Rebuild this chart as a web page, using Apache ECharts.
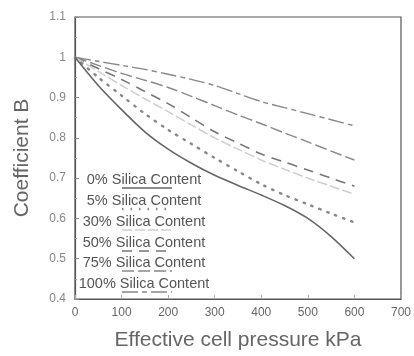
<!DOCTYPE html>
<html>
<head>
<meta charset="utf-8">
<script src="https://cdn.jsdelivr.net/npm/echarts@6/dist/echarts.min.js"></script>
<style>
html,body{margin:0;padding:0;background:#fff;}
#chart{width:414px;height:356px;}
</style>
</head>
<body>
<div id="chart"></div>
<script>
// Data
var pressure = [0, 50, 100, 150, 200, 250, 300, 350, 400, 450, 500, 550, 600];
var silica0   = [1.0, 0.93, 0.87, 0.815, 0.772, 0.737, 0.707, 0.682, 0.658, 0.632, 0.60, 0.555, 0.50];
var silica5   = [1.0, 0.95, 0.905, 0.86, 0.82, 0.785, 0.75, 0.717, 0.685, 0.658, 0.635, 0.612, 0.59];
var silica30  = [1.0, 0.965, 0.93, 0.897, 0.865, 0.832, 0.80, 0.772, 0.745, 0.722, 0.70, 0.68, 0.66];
var silica50  = [1.0, 0.972, 0.945, 0.915, 0.885, 0.85, 0.815, 0.787, 0.76, 0.74, 0.72, 0.70, 0.68];
var silica75  = [1.0, 0.98, 0.96, 0.943, 0.925, 0.903, 0.88, 0.857, 0.835, 0.812, 0.79, 0.767, 0.745];
var silica100 = [1.0, 0.99, 0.98, 0.97, 0.958, 0.945, 0.93, 0.91, 0.89, 0.875, 0.86, 0.845, 0.83];
var seriesNames = ['0% Silica Content', '5% Silica Content', '30% Silica Content',
                   '50% Silica Content', '75% Silica Content', '100% Silica Content'];
var xTitle = 'Effective cell pressure kPa';
var yTitle = 'Coefficient B';

var FONT = '"Liberation Sans", Arial, sans-serif';
var styles = [
  {color: '#666', width: 1.6, type: 'solid'},
  {color: '#888', width: 2.4, type: [1.5, 7], cap: 'round'},
  {color: '#cfcfcf', width: 1.5, type: [10, 3]},
  {color: '#777', width: 1.6, type: [10, 7]},
  {color: '#888', width: 1.4, type: [12, 4]},
  {color: '#888', width: 1.4, type: [16, 4, 5, 4]}
];
var allData = [silica0, silica5, silica30, silica50, silica75, silica100];

function pairs(arr){ return pressure.map(function(p, i){ return [p, arr[i]]; }); }

var series = allData.map(function(d, i){
  return {
    name: seriesNames[i], type: 'line', data: pairs(d), smooth: 0.3,
    symbol: 'none', silent: true,
    lineStyle: {color: styles[i].color, width: styles[i].width, type: styles[i].type, cap: styles[i].cap || 'butt'},
    z: 10 - i
  };
});

// Legend drawn as graphic (text with sample line below)
var legendGraphics = [];
var rowY = [180, 201, 222, 243, 263, 284];
seriesNames.forEach(function(n, i){
  legendGraphics.push({
    type: 'text', x: 144, y: rowY[i],
    style: {text: n, fill: '#555', font: '14.5px ' + FONT, textAlign: 'center', textVerticalAlign: 'middle'}
  });
  legendGraphics.push({
    type: 'line', shape: {x1: 122, y1: rowY[i] + 8, x2: 172, y2: rowY[i] + 8},
    style: {stroke: styles[i].color, lineWidth: styles[i].width, lineDash: Array.isArray(styles[i].type) ? styles[i].type : null}
  });
});

var chart = echarts.init(document.getElementById('chart'), null, {renderer: 'canvas'});
chart.setOption({
  backgroundColor: '#fff',
  animation: false,
  grid: {left: 75, right: 11, top: 17, bottom: 51, show: true, borderColor: '#555', borderWidth: 1.2},
  xAxis: {
    type: 'value', min: 0, max: 700, interval: 100,
    name: xTitle, nameLocation: 'middle', nameGap: 31,
    nameTextStyle: {fontSize: 21, color: '#666', fontFamily: FONT},
    axisLine: {show: true, lineStyle: {color: '#555', width: 1.2}},
    axisTick: {show: true, inside: true, length: 4, lineStyle: {color: '#aaa'}},
    axisLabel: {fontSize: 12, color: '#666', fontFamily: FONT, margin: 8},
    splitLine: {show: false}
  },
  yAxis: {
    type: 'value', min: 0.4, max: 1.1, interval: 0.1,
    name: yTitle, nameLocation: 'middle', nameGap: 42,
    nameTextStyle: {fontSize: 21, color: '#666', fontFamily: FONT},
    axisLine: {show: true, lineStyle: {color: '#555', width: 1.2}},
    axisTick: {show: true, inside: true, length: 4, lineStyle: {color: '#888'}},
    minorTick: {show: true, splitNumber: 2, length: 2, lineStyle: {color: '#999'}},
    axisLabel: {fontSize: 12, color: '#888', fontFamily: FONT, margin: 9,
      formatter: function(v){ return +v.toFixed(2) + ''; }},
    splitLine: {show: false}
  },
  series: series,
  graphic: legendGraphics
});
</script>
</body>
</html>
